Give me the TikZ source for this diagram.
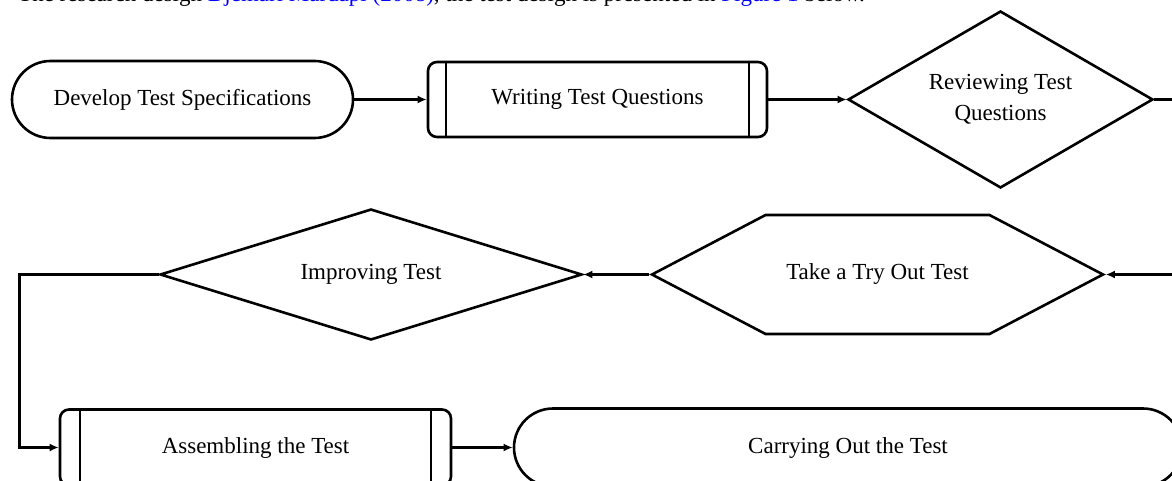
\documentclass[tikz,border=0pt]{standalone}
\usepackage{fontspec}
\setmainfont{Liberation Serif}
\usetikzlibrary{shapes.geometric,shapes.misc,shapes.symbols,arrows.meta}
\begin{document}
\begin{tikzpicture}[x=1pt,y=-1pt,
  every node/.style={font=\fontsize{23}{31}\selectfont},
  box/.style={draw, line width=2.6pt, inner sep=0pt, align=center},
  stadium/.style={box, rounded rectangle, rounded rectangle arc length=180},
  procbox/.style={box, rectangle, rounded corners=9pt},
  decision/.style={box, diamond},
  hexa/.style={box, signal, signal to=east and west},
  conn/.style={line width=3pt},
  inner line/.style={line width=2.2pt},
  arr/.style={conn, -{Latex[length=9pt,width=8pt]}}
]
\useasboundingbox (0,0) rectangle (1172,481);
\clip (0,0) rectangle (1172,481);

% cut-off line of text at the top
\node[anchor=base west, inner sep=0pt] (toptext) at (18,1.5)
  {The research design \textcolor{blue}{Djemari Mardapi (2008)}, the test design is presented in \textcolor{blue}{Figure 1} below.};

% row 1
\node[stadium, minimum width=341pt, minimum height=77pt] (dev) at (182.5,99.5) {Develop Test Specifications};
\node[procbox, minimum width=339pt, minimum height=75pt] (wri) at (597.5,99.5) {Writing Test Questions};
\draw[inner line] ([xshift=19pt]wri.north west) -- ([xshift=19pt]wri.south west);
\draw[inner line] ([xshift=-19pt]wri.north east) -- ([xshift=-19pt]wri.south east);
\node[decision, shape aspect=1.72, minimum width=305pt, minimum height=177pt] (rev) at (1000.5,99.5) {Reviewing Test\\Questions};

% row 2
\node[hexa, minimum width=451pt, minimum height=119pt, signal pointer angle=55.3] (hex) at (877.5,274.5) {Take a Try Out Test};
\node[decision, shape aspect=3.2, minimum width=422pt, minimum height=131pt] (imp) at (371,274.5) {Improving Test};

% row 3
\node[procbox, minimum width=391pt, minimum height=76pt] (asm) at (255.5,447.5) {Assembling the Test};
\draw[inner line] ([xshift=21pt]asm.north west) -- ([xshift=21pt]asm.south west);
\draw[inner line] ([xshift=-21pt]asm.north east) -- ([xshift=-21pt]asm.south east);
\node[stadium, minimum width=668pt, minimum height=78pt] (car) at (848,447.5) {Carrying Out the Test};

% connectors
\coordinate (r1) at (1180,99.5);
\coordinate (r2) at (1180,274.5);
\coordinate (c1) at (19,274.5);
\draw[arr] (dev.east) -- (wri.west);
\draw[arr] (wri.east) -- (rev.west);
\draw[conn] (rev.east) -- (r1);
\draw[arr] (r2) -- (hex.east);
\draw[arr] (hex.west) -- (imp.east);
\draw[arr] (imp.west) -- (c1) |- (asm.west);
\draw[arr] (asm.east) -- (car.west);
\end{tikzpicture}
\end{document}
